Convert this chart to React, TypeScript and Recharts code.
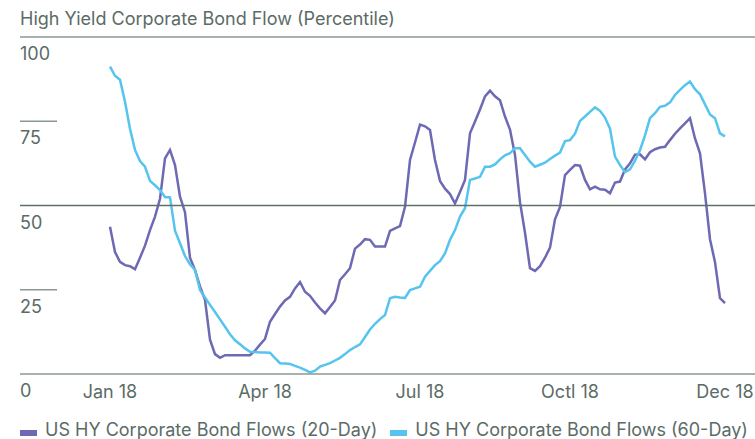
import React from 'react';
import { LineChart, Line, XAxis, YAxis } from 'recharts';

// percentile readings, one per step from Jan 18 to Dec 18
const flow20 = [
  43.7, 36.2, 33.3, 32.3, 32, 31.1, 34.5, 38.1, 42.7, 46.7,
  52, 64, 66.5, 62, 52.6, 48, 34.5, 30.9, 26, 22,
  10.2, 5.9, 4.8, 5.6, 5.6, 5.6, 5.6, 5.6, 5.6, 6.9,
  8.7, 10.4, 15.5, 17.8, 20, 21.8, 22.9, 25.4, 27.3, 24.4,
  23.2, 21.2, 19.5, 18, 19.9, 21.8, 27.9, 29.6, 31.4, 37.2,
  38.4, 40, 39.8, 37.8, 37.8, 37.8, 42.5, 43.2, 43.9, 49.6,
  63.5, 68.7, 74, 73.5, 72.4, 63.5, 57.3, 55, 53.4, 50.6,
  54, 57.6, 71.4, 74.9, 78.5, 82.4, 84.1, 82.4, 81.2, 76.4,
  72.5, 65, 51, 41.9, 31.4, 30.6, 32, 34.5, 37.5, 45.9,
  49.6, 59, 60.6, 62, 61.8, 57.6, 54.8, 55.6, 54.8, 54.7,
  53.6, 56.8, 57.1, 60.7, 62.5, 65.1, 65.2, 63.7, 65.8, 66.7,
  67.2, 67.4, 69.4, 71.3, 72.9, 74.4, 75.9, 69.9, 65.5, 53.6,
  40, 33.2, 22.5, 21,
];

const flow60 = [
  91.2, 88.5, 87.3, 80.8, 72.8, 66.5, 63.2, 61.5, 57.3, 56,
  54.6, 52.5, 52.4, 42.5, 38.8, 35, 32.6, 30.9, 24.9, 22.7,
  20.5, 18.4, 16.2, 14, 11.8, 10, 8.8, 7.6, 6.6, 6.5,
  6.4, 6.4, 6.3, 4.7, 3.2, 3.1, 3, 2.4, 1.9, 1.2,
  0.5, 1, 2.2, 2.7, 3.2, 4, 4.8, 5.9, 7.1, 8,
  8.8, 11, 13.2, 14.9, 16.3, 17.5, 22.5, 22.9, 22.7, 22.6,
  24.9, 25.4, 25.9, 28.9, 30.6, 32.3, 33.5, 35.8, 39.8, 42.7,
  46.7, 49.2, 57.6, 58, 58.5, 61.5, 61.5, 62.2, 63.7, 64.9,
  65.5, 67, 67, 65, 63, 61.5, 62.1, 62.7, 63.8, 64.8,
  65.7, 69.1, 69.4, 71.3, 75.1, 76.4, 77.8, 79.1, 78.1, 76.1,
  72.8, 64.5, 62, 59.9, 60.7, 63.3, 66.4, 70.8, 75.9, 77.4,
  79.3, 79.6, 80.6, 82.8, 84.3, 85.7, 86.8, 84.5, 83, 80,
  77, 75.9, 71.4, 70.5,
];

const tickIndex = [0, 31, 62, 92, 123];
const tickLabels = ['Jan 18', 'Apr 18', 'Jul 18', 'Octl 18', 'Dec 18'];
const yTicks = [0, 25, 50, 75, 100];
const fullLines = [0, 50, 100];
const seriesNames = ['US HY Corporate Bond Flows (20-Day)', 'US HY Corporate Bond Flows (60-Day)'];
const seriesColors = ['#6d6ab3', '#55c4ee'];

const data = flow20.map((v, i) => ({ idx: i, d20: v, d60: flow60[i] }));

const FONT = 'Inter, "Liberation Sans", Arial, sans-serif';
const TEXT = '#5b6b66';

const YTick = (props: any) => {
  const { y, payload } = props;
  const full = fullLines.includes(payload.value);
  return (
    <g>
      <line
        x1={20}
        x2={full ? 755 : 57}
        y1={y}
        y2={y}
        stroke={payload.value === 50 ? '#5f6f6a' : '#8a9895'}
        strokeWidth={1.5}
      />
      <text x={20} y={y + 23} fill={TEXT} fontSize={18} fontFamily={FONT}>
        {payload.value}
      </text>
    </g>
  );
};

const XTick = (props: any) => {
  const { x, payload } = props;
  const k = tickIndex.indexOf(payload.value);
  return (
    <text x={x} y={398} textAnchor="middle" fill={TEXT} fontSize={18} fontFamily={FONT}>
      {tickLabels[k]}
    </text>
  );
};

export default function App() {
  return (
    <div style={{ position: 'absolute', left: 0, top: 0, width: 755, height: 439, overflow: 'hidden', background: '#fff' }}>
      <div
        style={{
          position: 'absolute',
          left: 20,
          top: 10,
          fontFamily: FONT,
          fontSize: 18,
          lineHeight: '18px',
          color: TEXT,
          whiteSpace: 'nowrap',
        }}
      >
        High Yield Corporate Bond Flow (Percentile)
      </div>
      <LineChart width={755} height={439} data={data} margin={{ top: 37, right: 0, bottom: 0, left: 0 }}>
        <XAxis
          dataKey="idx"
          type="number"
          domain={[-18, 129]}
          ticks={tickIndex}
          interval={0}
          height={65}
          axisLine={false}
          tickLine={false}
          tick={<XTick />}
        />
        <YAxis
          domain={[0, 100]}
          ticks={yTicks}
          interval={0}
          width={20}
          axisLine={false}
          tickLine={false}
          tick={<YTick />}
        />
        <Line dataKey="d20" stroke={seriesColors[0]} strokeWidth={2.5} dot={false} isAnimationActive={false} />
        <Line dataKey="d60" stroke={seriesColors[1]} strokeWidth={2.5} dot={false} isAnimationActive={false} />
      </LineChart>
      <div
        style={{
          position: 'absolute',
          left: 20,
          top: 421,
          display: 'flex',
          fontFamily: FONT,
          fontSize: 18,
          lineHeight: '18px',
          color: TEXT,
          whiteSpace: 'nowrap',
        }}
      >
        {seriesNames.map((name, i) => (
          <div key={name} style={{ display: 'flex', alignItems: 'center', marginRight: 13 }}>
            <span style={{ display: 'inline-block', width: 17, height: 6, marginTop: 6, background: seriesColors[i], marginRight: 8 }} />
            <span>{name}</span>
          </div>
        ))}
      </div>
    </div>
  );
}
